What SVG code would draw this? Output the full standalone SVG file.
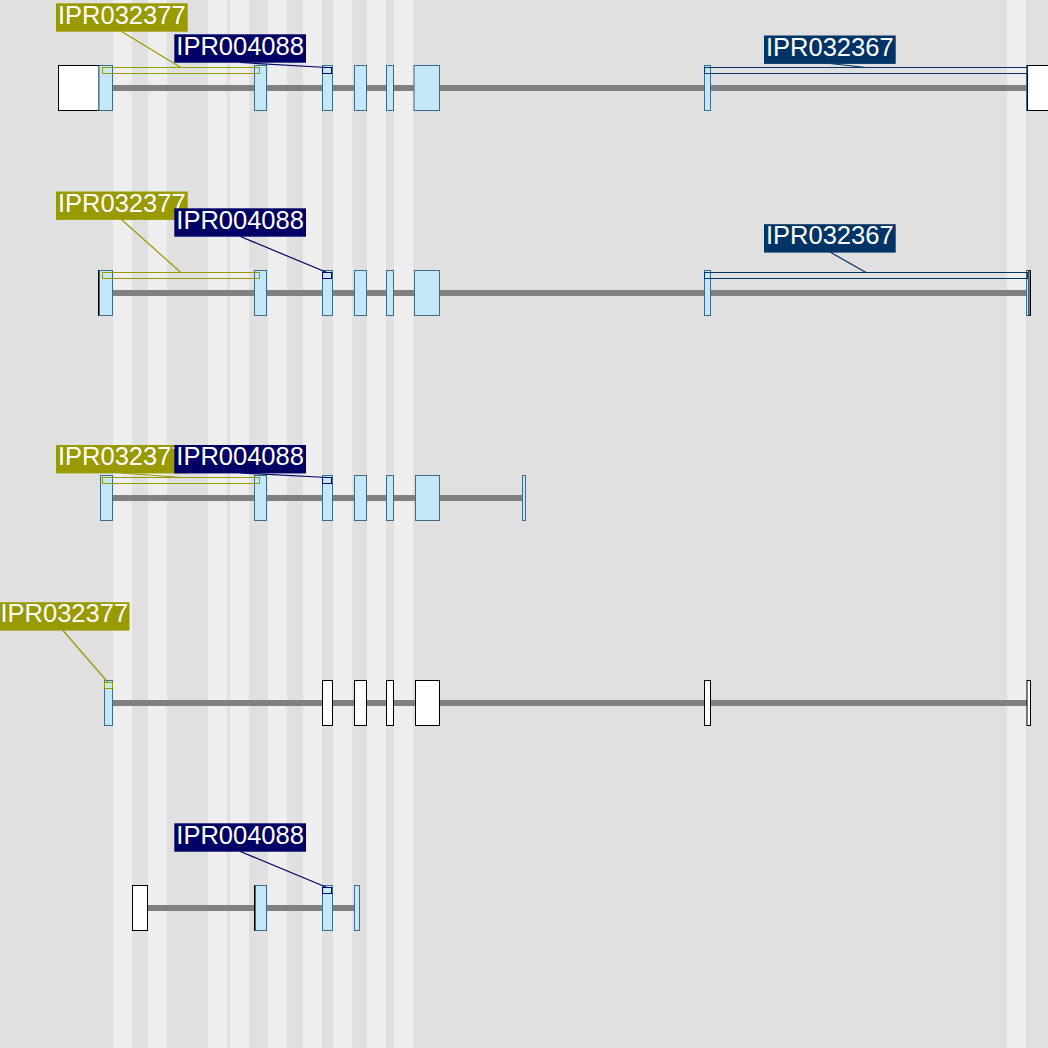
<svg xmlns="http://www.w3.org/2000/svg" width="1048" height="1048" viewBox="0 0 1048 1048">
<style>
.bg{fill:#e0e0e0}
.st{fill:#eeeeee}
.intron{stroke:#808080;stroke-width:6;fill:none}
.cds{fill:#c4e7fa;stroke:#3d6b8a;stroke-width:1}
.utr{fill:#ffffff;stroke:#000000;stroke-width:1}
.d1{fill:none;stroke:#999900;stroke-width:1}
.d2{fill:none;stroke:#000066;stroke-width:1}
.d3{fill:none;stroke:#003366;stroke-width:1}
.l1{fill:#999900}
.l2{fill:#000066}
.l3{fill:#003366}
.lab{fill:#ffffff;font-family:"Liberation Sans",Arial,sans-serif;font-size:25.5px}
.c1{stroke:#999900;stroke-width:1.2}
.c2{stroke:#000066;stroke-width:1.2}
.c3{stroke:#003366;stroke-width:1.2}
</style>
<g id="background">
<rect class="bg" x="0" y="0" width="1048" height="1048"/>
<rect class="st" x="113" y="0" width="19" height="1048"/>
<rect class="st" x="148" y="0" width="19" height="1048"/>
<rect class="st" x="208" y="0" width="19" height="1048"/>
<rect class="st" x="230" y="0" width="19" height="1048"/>
<rect class="st" x="268" y="0" width="19" height="1048"/>
<rect class="st" x="303" y="0" width="19" height="1048"/>
<rect class="st" x="333" y="0" width="19" height="1048"/>
<rect class="st" x="367" y="0" width="19" height="1048"/>
<rect class="st" x="394" y="0" width="19" height="1048"/>
<rect class="st" x="1007" y="0" width="19" height="1048"/>
</g>

<g id="gene1">
<line class="intron" x1="105" y1="88" x2="1030" y2="88"/>
<rect class="utr" x="58.5" y="65.5" width="40.5" height="45"/>
<rect class="cds" x="99" y="65.5" width="13.5" height="45"/>
<rect class="cds" x="254.5" y="65.5" width="12" height="45"/>
<rect class="cds" x="322.5" y="65.5" width="10" height="45"/>
<rect class="cds" x="354.5" y="65.5" width="12" height="45"/>
<rect class="cds" x="386.5" y="65.5" width="7" height="45"/>
<rect class="cds" x="414" y="65.5" width="25.5" height="45"/>
<rect class="cds" x="704.5" y="65.5" width="6" height="45"/>
<rect class="cds" x="1026.5" y="65.5" width="1" height="45"/>
<rect class="utr" x="1027.5" y="65.5" width="30" height="45"/>
</g>

<g id="gene2">
<line class="intron" x1="105" y1="293" x2="1029" y2="293"/>
<rect class="utr" x="98.5" y="270.5" width="1" height="45"/>
<rect class="cds" x="99.5" y="270.5" width="13" height="45"/>
<rect class="cds" x="254.5" y="270.5" width="12" height="45"/>
<rect class="cds" x="322.5" y="270.5" width="10" height="45"/>
<rect class="cds" x="354.5" y="270.5" width="12" height="45"/>
<rect class="cds" x="386.5" y="270.5" width="7" height="45"/>
<rect class="cds" x="414.5" y="270.5" width="25" height="45"/>
<rect class="cds" x="704.5" y="270.5" width="6" height="45"/>
<rect class="cds" x="1026.5" y="270.5" width="2.5" height="45"/>
<rect class="utr" x="1029" y="270.5" width="1.5" height="45"/>
</g>

<g id="gene3">
<line class="intron" x1="105" y1="498" x2="523" y2="498"/>
<rect class="cds" x="100.5" y="475.5" width="12" height="45"/>
<rect class="cds" x="254.5" y="475.5" width="12" height="45"/>
<rect class="cds" x="322.5" y="475.5" width="10" height="45"/>
<rect class="cds" x="354.5" y="475.5" width="12" height="45"/>
<rect class="cds" x="386.5" y="475.5" width="7" height="45"/>
<rect class="cds" x="415.5" y="475.5" width="24" height="45"/>
<rect class="cds" x="522.5" y="475.5" width="3" height="45"/>
</g>

<g id="gene4">
<line class="intron" x1="108" y1="703" x2="1029" y2="703"/>
<rect class="cds" x="104.5" y="680.5" width="8" height="45"/>
<rect class="utr" x="322.5" y="680.5" width="10" height="45"/>
<rect class="utr" x="354.5" y="680.5" width="12" height="45"/>
<rect class="utr" x="386.5" y="680.5" width="7" height="45"/>
<rect class="utr" x="415.5" y="680.5" width="24" height="45"/>
<rect class="utr" x="704.5" y="680.5" width="6" height="45"/>
<rect class="utr" x="1027" y="680.5" width="3.5" height="45"/>
</g>

<g id="gene5">
<line class="intron" x1="140" y1="908" x2="357" y2="908"/>
<rect class="utr" x="132.5" y="885.5" width="15" height="45"/>
<rect class="utr" x="254.5" y="885.5" width="1" height="45"/>
<rect class="cds" x="255.5" y="885.5" width="11" height="45"/>
<rect class="cds" x="322.5" y="885.5" width="10" height="45"/>
<rect class="cds" x="354.5" y="885.5" width="5" height="45"/>
</g>

<g id="domains">
<rect class="d1" x="102.5" y="67.5" width="157" height="6"/>
<rect class="d2" x="322.5" y="67.5" width="9" height="6"/>
<rect class="d3" x="704.5" y="67.5" width="323" height="6"/>
<rect class="d1" x="102.5" y="272.5" width="157" height="6"/>
<rect class="d2" x="322.5" y="272.5" width="9" height="6"/>
<rect class="d3" x="704.5" y="272.5" width="323" height="6"/>
<rect class="d1" x="102.5" y="477.5" width="157" height="6"/>
<rect class="d2" x="322.5" y="477.5" width="9" height="6"/>
<rect class="d1" x="104.5" y="682.5" width="8" height="6"/>
<rect class="d2" x="322.5" y="887.5" width="9" height="6"/>
</g>

<g id="connectors">
<line class="c1" x1="121.5" y1="31.5" x2="180.8" y2="67.5"/>
<line class="c2" x1="240.3" y1="62.5" x2="327" y2="67.5"/>
<line class="c3" x1="830" y1="63.5" x2="866" y2="67.5"/>
<line class="c1" x1="121.5" y1="219.5" x2="180.8" y2="272.5"/>
<line class="c2" x1="240.3" y1="236.5" x2="327" y2="272.5"/>
<line class="c3" x1="830" y1="252" x2="866" y2="272.5"/>
<line class="c1" x1="121.5" y1="473" x2="180.8" y2="477.5"/>
<line class="c2" x1="240.3" y1="473" x2="327" y2="477.5"/>
<line class="c1" x1="63" y1="630.5" x2="108" y2="682.5"/>
<line class="c2" x1="240.3" y1="851.5" x2="327" y2="887.5"/>
</g>

<g id="label-g1-IPR032377"><rect class="l1" x="56" y="3.3" width="131.7" height="28.4"/><text class="lab" x="58" y="23.5">IPR032377</text></g>
<g id="label-g1-IPR004088"><rect class="l2" x="174.3" y="34.3" width="131.7" height="28.4"/><text class="lab" x="176.3" y="54.5">IPR004088</text></g>
<g id="label-g1-IPR032367"><rect class="l3" x="764" y="35.5" width="131.7" height="28.4"/><text class="lab" x="766" y="55.7">IPR032367</text></g>

<g id="label-g2-IPR032377"><rect class="l1" x="56" y="191.5" width="131.7" height="28.4"/><text class="lab" x="58" y="211.7">IPR032377</text></g>
<g id="label-g2-IPR004088"><rect class="l2" x="174.3" y="208.3" width="131.7" height="28.4"/><text class="lab" x="176.3" y="228.5">IPR004088</text></g>
<g id="label-g2-IPR032367"><rect class="l3" x="764" y="224.2" width="131.7" height="28.4"/><text class="lab" x="766" y="244.4">IPR032367</text></g>

<g id="label-g3-IPR032377"><rect class="l1" x="56" y="445" width="131.7" height="28.4"/><text class="lab" x="58" y="465.2">IPR032377</text></g>
<g id="label-g3-IPR004088"><rect class="l2" x="174.3" y="445" width="131.7" height="28.4"/><text class="lab" x="176.3" y="465.2">IPR004088</text></g>

<g id="label-g4-IPR032377"><rect class="l1" x="-1.5" y="602.2" width="131" height="28.4"/><text class="lab" x="0.5" y="622.4">IPR032377</text></g>

<g id="label-g5-IPR004088"><rect class="l2" x="174.3" y="823.3" width="131.7" height="28.4"/><text class="lab" x="176.3" y="843.5">IPR004088</text></g>
</svg>
